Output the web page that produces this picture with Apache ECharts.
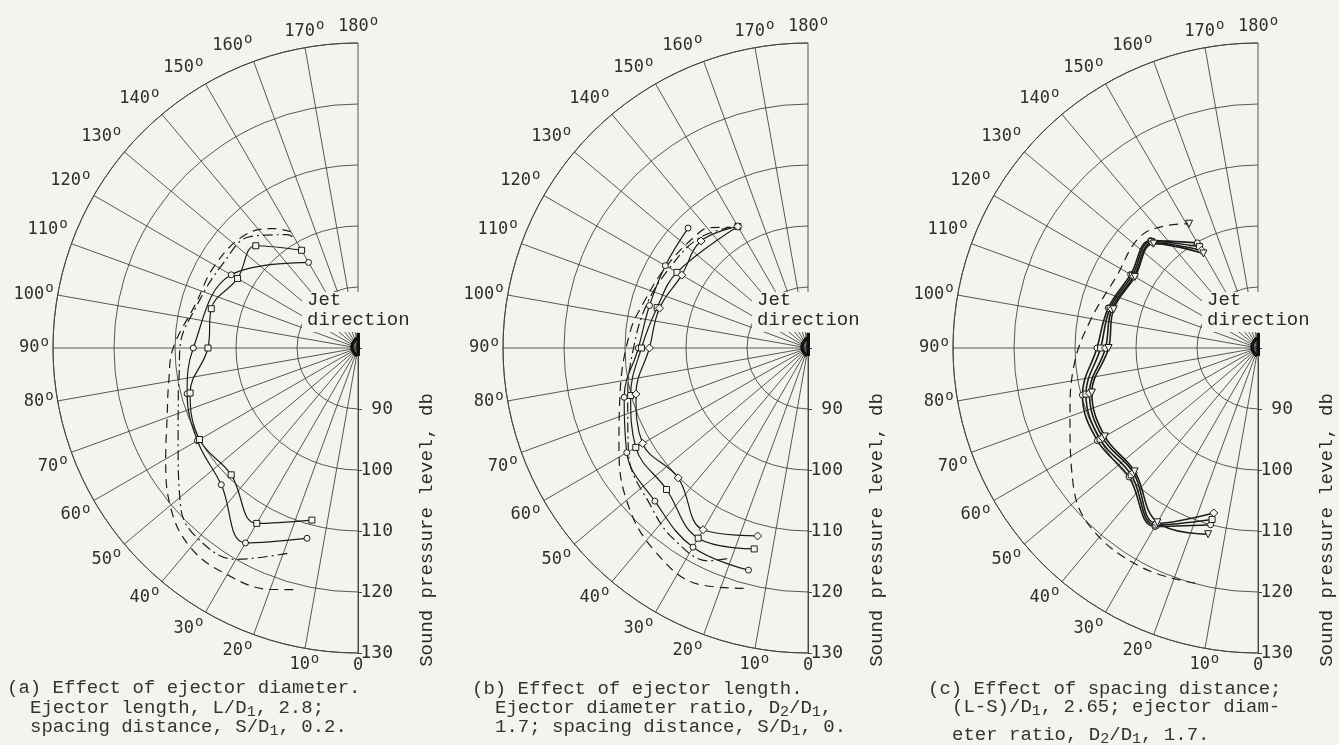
<!DOCTYPE html>
<html>
<head>
<meta charset="utf-8">
<script src="https://cdn.jsdelivr.net/npm/echarts@6/dist/echarts.min.js"></script>
<style>
  html, body { margin: 0; padding: 0; background: #f4f4ef; }
  #chart { width: 1339px; height: 745px; }
</style>
</head>
<body>
<div id="chart"></div>
<script>
// Directivity of jet noise with ejectors: angle from jet axis (deg) vs sound pressure level (db)

// radial scale (db) and angular scale (deg)
const radiusMin = 80, radiusMax = 130, radiusStep = 10;
const angleMin = 0, angleMax = 180, angleStep = 10;

// (a) effect of ejector diameter
const aCircleAng = [15, 30, 45, 60, 75, 90, 120, 150];
const aCircleDb  = [112.3, 116.9, 111.7, 110.4, 109.0, 107.0, 104.0, 96.2];
const aSquareAng = [15, 30, 45, 60, 75, 90, 105, 120, 135, 150];
const aSquareDb  = [109.2, 113.2, 109.4, 110.0, 108.5, 104.6, 104.9, 102.8, 103.7, 98.5];
const aDashAng   = [15, 20, 30, 40, 50, 60, 70, 80, 90, 105, 120, 135, 145, 150];
const aDashDb    = [121.0, 122.1, 122.9, 122.7, 120.2, 116.4, 113.3, 111.5, 110.3, 107.6, 107.1, 106.2, 103.9, 102.0];
const aDashDotAng = [19, 30, 40, 48, 63, 75, 82, 90, 105, 122, 136, 148, 150];
const aDashDotDb  = [115.6, 120.0, 120.8, 119.1, 113.1, 110.5, 109.6, 109.2, 107.3, 106.1, 105.4, 101.9, 100.5];

// (b) effect of ejector length
const bCircleAng  = [15, 30, 45, 60, 75, 90, 105, 120, 135];
const bCircleDb   = [117.7, 117.7, 115.5, 114.3, 111.2, 107.8, 106.9, 107.0, 107.8];
const bSquareAng  = [15, 30, 45, 60, 75, 90, 105, 120, 150];
const bSquareDb   = [114.1, 116.0, 112.8, 112.6, 110.1, 107.3, 105.6, 104.8, 103.0];
const bDiamondAng = [15, 30, 45, 60, 75, 90, 105, 120, 135, 150];
const bDiamondDb  = [111.9, 114.4, 110.1, 111.3, 109.2, 106.0, 105.2, 103.9, 104.8, 103.0];
const bDashAng    = [15, 25, 37, 49, 62, 77, 95, 105, 120, 137, 141, 147];
const bDashDb     = [120.8, 122.7, 121.7, 119.1, 115.1, 111.6, 109.3, 108.0, 106.8, 106.0, 105.4, 103.6];
const bDashDotAng = [21, 25, 35, 44, 60, 75, 90, 105, 120, 135, 148];
const bDashDotDb  = [117.0, 118.5, 118.3, 116.7, 114.0, 110.6, 108.6, 107.4, 106.2, 105.4, 103.4];

// (c) effect of spacing distance
const cAng        = [15, 30, 45, 60, 75, 90, 105, 120, 135, 150];
const cCircleDb   = [110.0, 113.8, 109.9, 110.4, 109.8, 106.4, 105.4, 104.1, 104.9, 99.9];
const cSquareDb   = [109.1, 113.5, 109.4, 109.9, 109.2, 105.8, 105.1, 103.8, 104.7, 99.2];
const cDiamondDb  = [108.0, 113.2, 108.9, 109.4, 108.6, 105.0, 104.8, 103.5, 104.4, 98.5];
const cTriangleDb = [111.6, 113.0, 108.6, 109.0, 108.2, 104.5, 104.5, 103.3, 104.2, 97.9];
const cDashAng    = [15, 28, 43, 54, 70, 84, 99, 117, 133, 143, 151];
const cDashDb     = [119.9, 120.7, 120.2, 117.5, 112.8, 110.4, 107.9, 106.0, 106.6, 105.1, 103.3];

const captions = [
  ['(a) Effect of ejector diameter.', 'Ejector length, L/D{s|1}, 2.8;', 'spacing distance, S/D{s|1}, 0.2.'],
  ['(b) Effect of ejector length.', 'Ejector diameter ratio, D{s|2}/D{s|1},', '1.7; spacing distance, S/D{s|1}, 0.'],
  ['(c) Effect of spacing distance;', '(L-S)/D{s|1}, 2.65; ejector diam-', 'eter ratio, D{s|2}/D{s|1}, 1.7.']
];
const axisTitle = 'Sound pressure level, db';
const jetLabel = 'Jet\ndirection';

// ---- layout / styling ----
const BG = '#f4f4ef';
const INK = '#1c1c1c';
const GRID = '#454545';
const TYPE = '"Liberation Mono", "DejaVu Sans Mono", monospace';
const LETTER = '"DejaVu Sans Mono", "Liberation Mono", monospace';
const centers = [358, 808, 1258];
const CY = 348, R = 305;

function pts(ang, db) { return db.map((v, i) => [v, ang[i]]); }

function curve(pi, ang, db, opts) {
  opts = opts || {};
  const data = pts(ang, db);
  if (opts.endSymbol) {
    const last = data.length - 1;
    data[last] = { value: data[last], symbol: opts.endSymbol, symbolSize: 7, symbolRotate: 180 };
  }
  return {
    type: 'line', coordinateSystem: 'polar', polarIndex: pi,
    data,
    smooth: 0.4,
    symbol: opts.symbol || 'none',
    showSymbol: !!(opts.symbol || opts.endSymbol),
    symbolSize: opts.size || 6,
    symbolRotate: opts.rotate || 0,
    itemStyle: { color: BG, borderColor: INK, borderWidth: 1 },
    lineStyle: { color: INK, width: opts.width || 1.2, type: opts.type || 'solid' },
    silent: true, animation: false, z: 3
  };
}

const polar = centers.map(cx => ({ center: [cx, CY], radius: R }));

const angleAxis = centers.map((cx, i) => ({
  polarIndex: i, type: 'value',
  min: angleMin, max: angleMax, interval: angleStep,
  startAngle: 270, endAngle: 90, clockwise: true,
  axisLine: { show: true, lineStyle: { color: GRID, width: 1 } },
  axisTick: { show: false },
  splitLine: { show: true, lineStyle: { color: GRID, width: 0.9 } },
  axisLabel: {
    margin: 4, color: '#2e2e2e',
    formatter: v => v === 0 ? '{n|0}' : '{n|' + v + '}{d|o}',
    rich: {
      n: { fontFamily: LETTER, fontSize: 17, color: '#2e2e2e' },
      d: { fontFamily: LETTER, fontSize: 14, color: '#2e2e2e', padding: [0, 0, 11, 1] }
    }
  }
}));

const radiusAxis = centers.map((cx, i) => ({
  polarIndex: i, type: 'value',
  min: radiusMin, max: radiusMax, interval: radiusStep,
  axisLine: { show: true, lineStyle: { color: GRID, width: 1 } },
  axisTick: { show: true, length: 4, lineStyle: { color: GRID } },
  splitLine: { show: true, lineStyle: { color: GRID, width: 0.9 } },
  axisLabel: {
    margin: 35, align: 'right', color: '#2e2e2e', fontFamily: LETTER, fontSize: 18,
    formatter: v => v === radiusMin ? '' : String(v)
  }
}));

const series = [
  curve(0, aDashAng, aDashDb, { type: [9, 6] }),
  curve(0, aDashDotAng, aDashDotDb, { type: [10, 4, 2, 4] }),
  curve(0, aCircleAng, aCircleDb, { symbol: 'circle' }),
  curve(0, aSquareAng, aSquareDb, { symbol: 'rect' }),

  curve(1, bDashAng, bDashDb, { type: [9, 6] }),
  curve(1, bDashDotAng, bDashDotDb, { type: [10, 4, 2, 4] }),
  curve(1, bCircleAng, bCircleDb, { symbol: 'circle' }),
  curve(1, bSquareAng, bSquareDb, { symbol: 'rect' }),
  curve(1, bDiamondAng, bDiamondDb, { symbol: 'diamond', size: 8 }),

  curve(2, cDashAng, cDashDb, { type: [9, 6], endSymbol: 'triangle' }),
  curve(2, cAng, cCircleDb, { symbol: 'circle', width: 1.6 }),
  curve(2, cAng, cSquareDb, { symbol: 'rect', width: 1.6 }),
  curve(2, cAng, cDiamondDb, { symbol: 'diamond', size: 8, width: 1.6 }),
  curve(2, cAng, cTriangleDb, { symbol: 'triangle', size: 7, rotate: 180, width: 1.6 })
];

// text and the nozzle sketch at each pole
const graphic = [];
centers.forEach((cx, i) => {
  // clear area behind the jet label
  graphic.push({ type: 'rect', z: 50, shape: { x: cx - 56, y: 292, width: 112, height: 40 },
    style: { fill: BG } });
  graphic.push({ type: 'text', z: 51, x: cx - 51, y: 310,
    style: { text: jetLabel, font: '19px ' + TYPE, fill: '#2a2a2a', lineHeight: 20,
      align: 'left', verticalAlign: 'middle', textAlign: 'left', textVerticalAlign: 'middle' } });
  // nozzle symbol
  graphic.push({ type: 'rect', z: 52, shape: { x: cx - 1.5, y: 333, width: 3.5, height: 23 },
    style: { fill: '#111' } });
  graphic.push({ type: 'bezierCurve', z: 52,
    shape: { x1: cx - 1, y1: 338, cpx1: cx - 11, cpy1: 347, x2: cx - 1, y2: 356 },
    style: { stroke: '#111', lineWidth: 3.5, fill: null } });
  // radial axis title
  graphic.push({ type: 'text', z: 51, x: cx + 69, y: 530, rotation: Math.PI / 2,
    style: { text: axisTitle, font: '19px ' + TYPE, fill: '#2a2a2a',
      align: 'center', verticalAlign: 'middle', textAlign: 'center', textVerticalAlign: 'middle' } });
});

const capPos = [
  [[7, 688], [30, 708], [30, 727]],
  [[472, 689], [495, 708], [495, 727]],
  [[928, 689], [952, 707], [952, 735]]
];
captions.forEach((lines, i) => {
  lines.forEach((t, j) => {
    graphic.push({ type: 'text', z: 51, x: capPos[i][j][0], y: capPos[i][j][1],
      style: { text: t, font: '19px ' + TYPE, fill: '#333',
        align: 'left', verticalAlign: 'middle', textAlign: 'left', textVerticalAlign: 'middle',
        rich: { s: { font: '15px ' + TYPE, fill: '#333', padding: [9, 0, 0, 0] } } } });
  });
});

const chart = echarts.init(document.getElementById('chart'), null, { renderer: 'canvas' });
chart.setOption({
  backgroundColor: BG,
  animation: false,
  polar, angleAxis, radiusAxis, series, graphic
});
</script>
</body>
</html>
